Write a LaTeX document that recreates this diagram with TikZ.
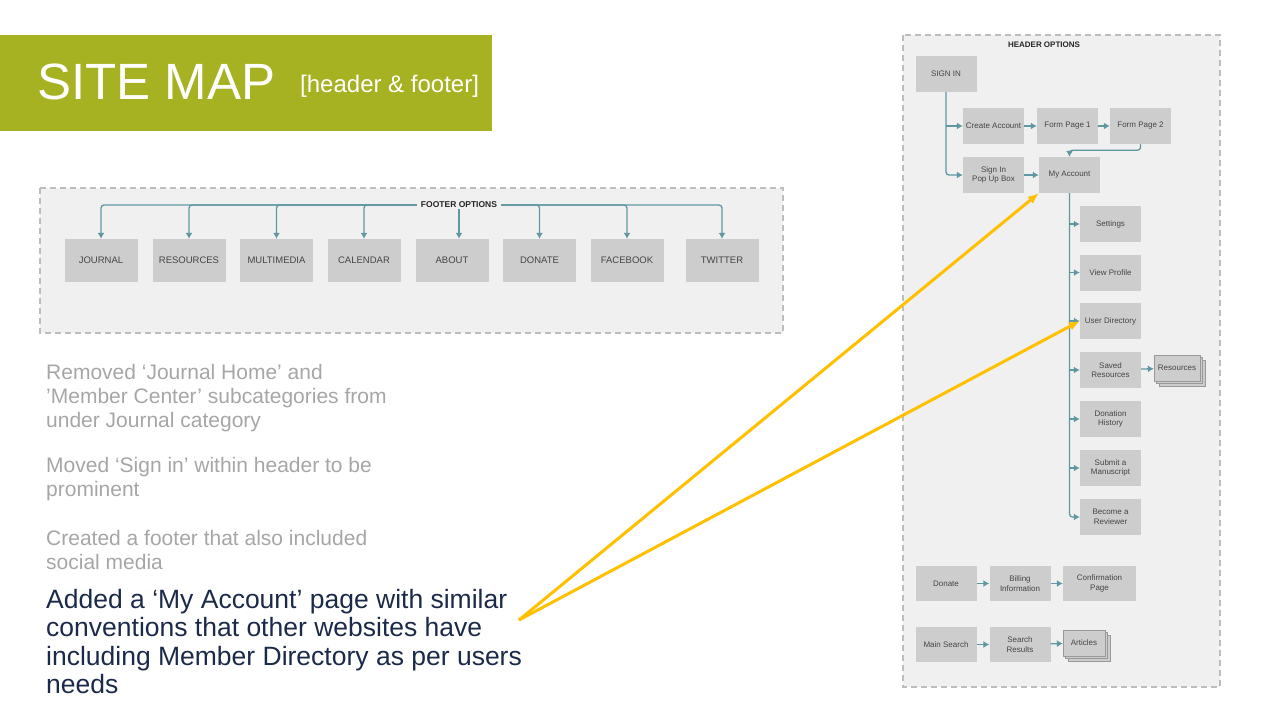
\documentclass[tikz,border=0pt]{standalone}
\usepackage{fontspec}
\setmainfont{Liberation Sans}
\usepackage{tikz}
\usetikzlibrary{arrows.meta,positioning,calc,shadows}

\definecolor{sitegreen}{HTML}{A7B222}
\definecolor{panelgray}{HTML}{F0F0F0}
\definecolor{dashgray}{HTML}{BDBDBD}
\definecolor{boxgray}{HTML}{CDCDCD}
\definecolor{boxtext}{HTML}{454545}
\definecolor{teal}{HTML}{5F98A2}
\definecolor{notegray}{HTML}{A6A6A6}
\definecolor{navy}{HTML}{1C2A4A}
\definecolor{callout}{HTML}{FFC000}

\begin{document}
\begin{tikzpicture}[
  x=1pt,y=-1pt,
  >=Latex,
  panel/.style={draw=dashgray,fill=panelgray,line width=1.3pt,dash pattern=on 6pt off 4pt},
  fbox/.style={fill=boxgray,text=boxtext,inner sep=0pt,minimum width=73pt,minimum height=43pt,font=\fontsize{9.5}{11}\selectfont},
  hbox/.style={fill=boxgray,text=boxtext,inner sep=0pt,minimum width=61pt,minimum height=36pt,align=center,font=\fontsize{8}{9.5}\selectfont},
  stack/.style={hbox,draw=gray!80,minimum width=46pt,minimum height=26pt,double copy shadow={shadow xshift=2.5pt,shadow yshift=-2.5pt,fill=boxgray,draw=gray!80}},
  label/.style={font=\bfseries\fontsize{8}{10}\selectfont,text=black!85,inner sep=1pt},
  link/.style={->,draw=teal,line width=1.3pt,rounded corners=3pt,>={Latex[length=6pt,width=7pt]}},
  arrow/.style={->,draw=callout,line width=3pt,>={Latex[length=11pt,width=9pt]}},
  note/.style={anchor=north west,inner sep=0pt,align=left,text=notegray,font=\fontsize{21}{24}\selectfont}
]
  \useasboundingbox (0,0) rectangle (1280,720);

  \fill[sitegreen] (0,35) rectangle (492,131);
  \node[anchor=base west,inner sep=0pt,text=white,font=\fontsize{51}{60}\selectfont] (title) at (37,99) {SITE MAP};
  \node[anchor=base west,inner sep=0pt,text=white,font=\fontsize{24}{28}\selectfont] (subtitle) at (300,92) {[header \& footer]};

  \draw[panel] (40,188) rectangle (783,333);
  \node[label,font=\bfseries\fontsize{8.5}{10}\selectfont,inner xsep=4pt] (footer) at (459,205) {FOOTER OPTIONS};
  \node[fbox] (journal) at (101,260.5) {JOURNAL};
  \node[fbox] (resources) at (189,260.5) {RESOURCES};
  \node[fbox] (multimedia) at (276.5,260.5) {MULTIMEDIA};
  \node[fbox] (calendar) at (364,260.5) {CALENDAR};
  \node[fbox] (about) at (452,260.5) {ABOUT};
  \node[fbox] (donate) at (539.5,260.5) {DONATE};
  \node[fbox] (facebook) at (627,260.5) {FACEBOOK};
  \node[fbox] (twitter) at (722,260.5) {TWITTER};
  \draw[link] (footer.west) -| (journal.north);
  \draw[link] (footer.west) -| (resources.north);
  \draw[link] (footer.west) -| (multimedia.north);
  \draw[link] (footer.west) -| (calendar.north);
  \draw[link] (footer.south) -- (footer.south |- about.north);
  \draw[link] (footer.east) -| (donate.north);
  \draw[link] (footer.east) -| (facebook.north);
  \draw[link] (footer.east) -| (twitter.north);

  \node[note] (removed) at (46,364) {Removed ‘Journal Home’ and\\’Member Center’ subcategories from\\under Journal category};
  \node[note] (moved) at (46,457) {Moved ‘Sign in’ within header to be\\prominent};
  \node[note] (created) at (46,530) {Created a footer that also included\\social media};
  \node[note,text=navy,font=\fontsize{26.5}{28.4}\selectfont] (added) at (46,589)
    {Added a ‘My Account’ page with similar\\conventions that other websites have\\including Member Directory as per users\\needs};

  \draw[panel] (903,35) rectangle (1220,687);
  \node[label] (header) at (1044,45) {HEADER OPTIONS};
  \node[hbox] (signin) at (946,74) {SIGN IN};
  \node[hbox] (create) at (993.5,126) {Create Account};
  \node[hbox] (form1) at (1067.5,126) {Form Page 1};
  \node[hbox] (form2) at (1140.5,126) {Form Page 2};
  \node[hbox] (popup) at (993.5,175) {Sign In\\Pop Up Box};
  \node[hbox] (myacc) at (1069.5,175) {My Account};
  \node[hbox] (settings) at (1110.5,224) {Settings};
  \node[hbox] (profile) at (1110.5,272.5) {View Profile};
  \node[hbox] (userdir) at (1110.5,321) {User Directory};
  \node[hbox] (saved) at (1110.5,370) {Saved\\Resources};
  \node[stack] (savedres) at (1177,368) {Resources};
  \node[hbox] (donation) at (1110.5,419) {Donation\\History};
  \node[hbox] (submit) at (1110.5,468) {Submit a\\Manuscript};
  \node[hbox] (reviewer) at (1110.5,517) {Become a\\Reviewer};

  \draw[link] (signin.south) |- (popup.west);
  \draw[link] (signin.south |- create.west) -- (create.west);
  \draw[link] (create) -- (form1);
  \draw[link] (form1) -- (form2);
  \draw[link] (form2.south) -- ++(0,6) -| (myacc.north);
  \draw[link] (popup) -- (myacc);
  \draw[link] (myacc.south) |- (reviewer.west);
  \draw[link] (myacc.south |- settings.west) -- (settings.west);
  \draw[link] (myacc.south |- profile.west) -- (profile.west);
  \draw[link] (myacc.south |- userdir.west) -- (userdir.west);
  \draw[link] (myacc.south |- saved.west) -- (saved.west);
  \draw[link] (myacc.south |- donation.west) -- (donation.west);
  \draw[link] (myacc.south |- submit.west) -- (submit.west);
  \draw[link] (saved) -- (savedres);

  \node[hbox,minimum height=35pt] (hdonate) at (946,583.5) {Donate};
  \node[hbox,minimum height=35pt] (billing) at (1020,583.5) {Billing\\Information};
  \node[hbox,minimum height=35pt,minimum width=73pt] (confirm) at (1099.5,583.5) {Confirmation\\Page};
  \node[hbox,minimum height=35pt] (search) at (946,644.5) {Main Search};
  \node[hbox,minimum height=35pt] (results) at (1020,644.5) {Search\\Results};
  \node[stack,minimum width=42pt] (articles) at (1084,643) {Articles};
  \draw[link] (hdonate) -- (billing);
  \draw[link] (billing) -- (confirm);
  \draw[link] (search) -- (results);
  \draw[link] (results) -- (articles);

  \coordinate (src) at (519,620);
  \draw[arrow] (src) -- (myacc.south west);
  \draw[arrow] (src) -- (userdir.west);
\end{tikzpicture}
\end{document}
